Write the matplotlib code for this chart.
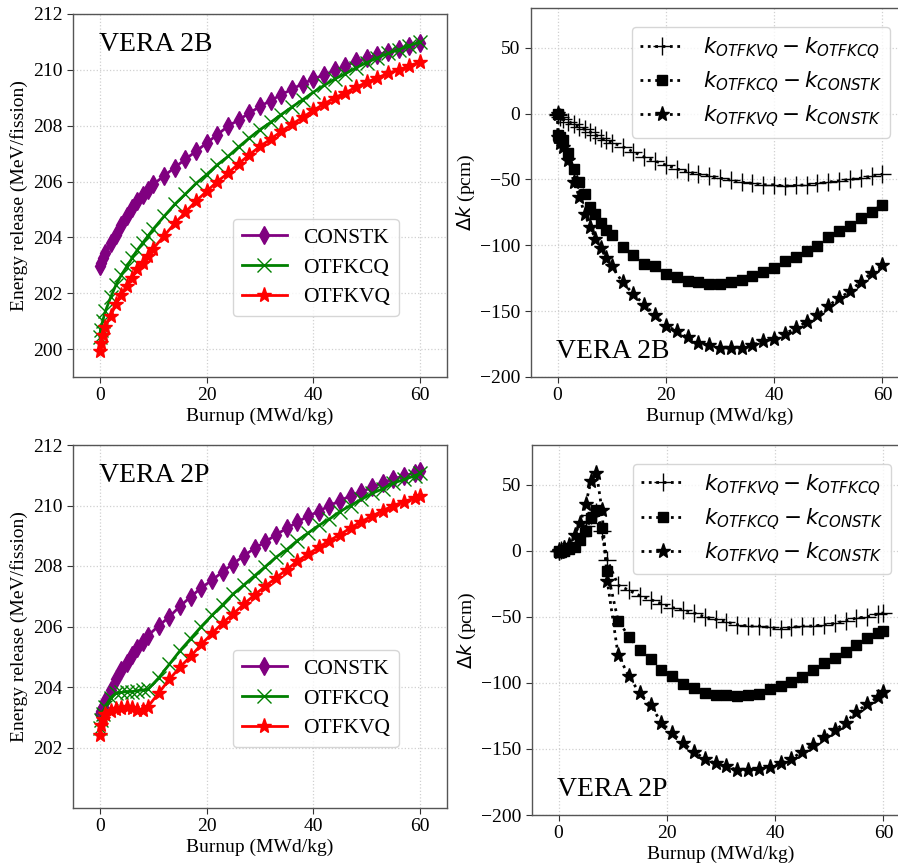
import matplotlib
matplotlib.use("Agg")
import matplotlib.pyplot as plt

plt.rcParams['font.family'] = ['Liberation Serif', 'DejaVu Serif']
plt.rcParams['mathtext.fontset'] = 'dejavusans'

# Burnup steps (MWd/kg)
burnup_2b = [0, 0.1, 0.5, 1, 2, 3, 4, 5, 6, 7, 8, 9, 10,
             12, 14, 16, 18, 20, 22, 24, 26, 28, 30, 32, 34, 36, 38, 40,
             42, 44, 46, 48, 50, 52, 54, 56, 58, 60]
burnup_2p = [0, 0.1, 0.5, 1, 2, 3, 4, 5, 6, 7, 8, 9,
             11, 13, 15, 17, 19, 21, 23, 25, 27, 29, 31, 33, 35, 37, 39,
             41, 43, 45, 47, 49, 51, 53, 55, 57, 59, 60]

# Energy release per fission (MeV/fission), VERA 2B
constk_2b = [202.98, 203.1, 203.25, 203.45, 203.8, 204.1, 204.45, 204.75, 205.05, 205.3,
             205.5, 205.7, 205.9, 206.2, 206.5, 206.8, 207.08, 207.38, 207.68, 207.98,
             208.21, 208.45, 208.69, 208.9, 209.11, 209.31, 209.5, 209.67, 209.82, 209.98,
             210.14, 210.3, 210.42, 210.54, 210.65, 210.76, 210.86, 210.95]
otfkcq_2b = [200.45, 200.7, 201.0, 201.35, 201.85, 202.3, 202.65, 202.95, 203.25, 203.55,
             203.8, 204.05, 204.3, 204.75, 205.18, 205.55, 205.93, 206.25, 206.6, 206.9,
             207.24, 207.56, 207.86, 208.12, 208.4, 208.67, 208.93, 209.2, 209.44, 209.67,
             209.86, 210.07, 210.26, 210.43, 210.59, 210.72, 210.87, 211.0]
otfkvq_2b = [199.94, 200.2, 200.5, 200.8, 201.2, 201.6, 201.95, 202.25, 202.55, 202.85,
             203.1, 203.35, 203.6, 204.05, 204.5, 204.9, 205.3, 205.65, 206.0, 206.3,
             206.64, 206.96, 207.26, 207.52, 207.8, 208.05, 208.3, 208.55, 208.78, 209.0,
             209.18, 209.38, 209.55, 209.72, 209.87, 210.0, 210.15, 210.28]

# Energy release per fission (MeV/fission), VERA 2P
constk_2p = [203.1, 203.2, 203.35, 203.55, 203.9, 204.25, 204.55, 204.8, 205.05, 205.3,
             205.5, 205.7, 206.02, 206.32, 206.67, 206.98, 207.28, 207.53, 207.81, 208.08,
             208.34, 208.59, 208.79, 209.04, 209.24, 209.45, 209.65, 209.8, 210.0, 210.15,
             210.33, 210.45, 210.6, 210.76, 210.88, 210.98, 211.08, 211.13]
otfkcq_2p = [202.65, 202.9, 203.1, 203.35, 203.65, 203.8, 203.82, 203.85, 203.85, 203.88,
             203.9, 203.92, 204.3, 204.75, 205.2, 205.6, 206.0, 206.37, 206.72, 207.08,
             207.38, 207.68, 207.98, 208.29, 208.54, 208.84, 209.09, 209.34, 209.55, 209.8,
             210.0, 210.2, 210.4, 210.55, 210.74, 210.86, 210.98, 211.06]
otfkvq_2p = [202.4, 202.75, 202.95, 203.1, 203.22, 203.28, 203.32, 203.33, 203.3, 203.25,
             203.25, 203.35, 203.8, 204.25, 204.66, 205.01, 205.41, 205.77, 206.12, 206.42,
             206.74, 207.05, 207.33, 207.61, 207.88, 208.16, 208.39, 208.62, 208.84, 209.04,
             209.26, 209.47, 209.65, 209.83, 210.0, 210.13, 210.25, 210.33]

# Reactivity differences (pcm), VERA 2B
dk_vq_cq_2b = [0, -1, -2.5, -4, -6, -8, -10, -12, -14, -16, -18.5, -20, -22,
               -25, -29, -33, -36, -39, -42, -44, -46, -47, -49, -50.5, -52, -53, -54, -54,
               -55, -54.5, -54, -53, -52, -51, -50, -49, -47.5, -46]
dk_cq_ck_2b = [0, -16, -18, -20, -30, -42, -52, -61, -71, -76, -83, -88, -92,
               -101, -107, -114, -116, -122, -124, -127, -128, -129, -129, -127.5, -126, -123,
               -120, -117, -112, -109, -104, -100.5, -94, -89, -85, -79, -74.5, -69]
dk_vq_ck_2b = [0, -18, -22, -25, -35, -52, -63, -76, -86, -95, -102, -110, -116,
               -128, -137, -145, -153, -161, -165, -170, -174, -176, -178, -178, -178, -175.5,
               -173, -171, -167, -163, -158, -153, -146, -140, -135, -127.5, -121, -115]

# Reactivity differences (pcm), VERA 2P
dk_vq_cq_2p = [0, 0, 0.5, 1, 3, 6, 11, 19, 27, 29, 15, -7,
               -26, -30, -34, -37, -40, -43, -45, -47, -50, -52, -54, -56, -57, -57, -58,
               -59, -58, -57, -57, -56, -55, -53, -51, -50, -48, -47]
dk_cq_ck_2p = [0, -1, -1, -0.5, 1, 3, 8, 15, 25, 31, 17, -15.7,
               -53, -65, -75, -82, -90, -95, -100.5, -104, -107.6, -109.4, -109.4, -110, -109.4,
               -108.6, -105, -102.5, -99, -95.4, -90.4, -85.3, -81, -76.5, -71.4, -66, -62.5, -60.8]
dk_vq_ck_2p = [0, -1, 0, 2, 4.6, 12, 21, 35, 53, 59, 31, -23,
               -79, -95, -108, -117, -130, -138, -145.5, -152, -157.5, -161, -163, -166, -166,
               -165.5, -164, -161, -157.5, -152, -147, -141, -136, -130, -122, -116, -110.6, -107]

energy_labels = ['CONSTK', 'OTFKCQ', 'OTFKVQ']
dk_labels = [r'$k_{OTFKVQ} - k_{OTFKCQ}$',
             r'$k_{OTFKCQ} - k_{CONSTK}$',
             r'$k_{OTFKVQ} - k_{CONSTK}$']

W, H = 898, 866
fig = plt.figure(figsize=(W / 100, H / 100), dpi=100)


def px_axes(x0, y0, x1, y1):
    return fig.add_axes([x0 / W, 1 - y1 / H, (x1 - x0) / W, (y1 - y0) / H])


ax_tl = px_axes(73.3, 14, 446.7, 377)
ax_tr = px_axes(530.5, 8.3, 909.5, 377)
ax_bl = px_axes(73.3, 445, 446.7, 808)
ax_br = px_axes(531.5, 445, 910.5, 815)

TICK_FS = 14


def style(ax):
    ax.grid(True, color='#d0d0d0', linestyle=':', linewidth=0.9)
    ax.set_axisbelow(True)
    for s in ax.spines.values():
        s.set_color('#555555')
        s.set_linewidth(1.0)
    ax.tick_params(labelsize=TICK_FS, colors='#333333', labelcolor='black', length=4)
    ax.set_xlim(-5, 65)
    ax.set_xticks([0, 20, 40, 60])


def energy_panel(ax, b, ck, cq, vq, name, ylim):
    ax.plot(b, ck, color='purple', marker='d', markersize=9, linewidth=2, label=energy_labels[0])
    ax.plot(b, cq, color='green', marker='x', markersize=10, markeredgewidth=1.0,
            linewidth=2, label=energy_labels[1])
    ax.plot(b, vq, color='red', marker='*', markersize=11, linewidth=2, label=energy_labels[2])
    style(ax)
    ax.set_ylim(*ylim)
    ax.set_yticks([200, 202, 204, 206, 208, 210, 212])
    ax.set_ylabel('Energy release (MeV/fission)', fontsize=14, labelpad=4)
    ax.text(0.07, 0.95, name, transform=ax.transAxes, fontsize=20, va='top', ha='left')
    ax.legend(loc='upper left', bbox_to_anchor=(0.428, 0.435), borderaxespad=0,
              fontsize=15.5, handlelength=2.1, borderpad=0.4, labelspacing=0.45,
              handletextpad=0.75, fancybox=True, edgecolor='#cccccc')


def dk_panel(ax, b, d1, d2, d3, name):
    ax.plot(b, d1, color='black', linestyle=':', marker='+', markersize=13,
            markeredgewidth=1.0, linewidth=2, label=dk_labels[0])
    ax.plot(b, d2, color='black', linestyle=':', marker='s', markersize=7,
            linewidth=2, label=dk_labels[1])
    ax.plot(b, d3, color='black', linestyle=':', marker='*', markersize=11,
            linewidth=2, label=dk_labels[2])
    style(ax)
    ax.set_ylim(-200, 80)
    ax.set_yticks([-200, -150, -100, -50, 0, 50])
    ax.set_ylabel(r'$\Delta k$ (pcm)', fontsize=14, labelpad=2)
    ax.set_xlabel('Burnup (MWd/kg)', fontsize=14, labelpad=2)
    ax.text(0.067, 0.035, name, transform=ax.transAxes, fontsize=20, va='bottom', ha='left')
    ax.legend(loc='upper left', bbox_to_anchor=(0.267, 0.95), borderaxespad=0,
              fontsize=15.5, handlelength=2.0, borderpad=0.4, labelspacing=0.4,
              handletextpad=0.9, fancybox=True, edgecolor='#cccccc')


energy_panel(ax_tl, burnup_2b, constk_2b, otfkcq_2b, otfkvq_2b, 'VERA 2B', (199, 212))
ax_tl.set_xlabel('Burnup (MWd/kg)', fontsize=14, labelpad=2)
energy_panel(ax_bl, burnup_2p, constk_2p, otfkcq_2p, otfkvq_2p, 'VERA 2P', (201, 212))
ax_bl.set_yticks([202, 204, 206, 208, 210, 212])
ax_bl.set_xlabel('Burnup (MWd/kg)', fontsize=14, labelpad=2)

dk_panel(ax_tr, burnup_2b, dk_vq_cq_2b, dk_cq_ck_2b, dk_vq_ck_2b, 'VERA 2B')
dk_panel(ax_br, burnup_2p, dk_vq_cq_2p, dk_cq_ck_2p, dk_vq_ck_2p, 'VERA 2P')

fig.savefig('out.png', dpi=100)
